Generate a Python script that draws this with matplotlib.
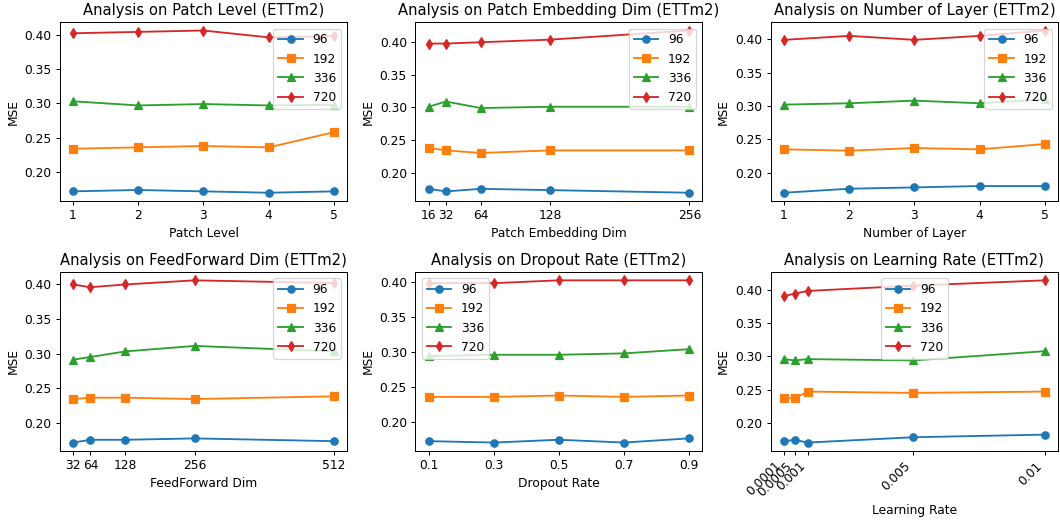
import matplotlib
matplotlib.use("Agg")
import matplotlib.pyplot as plt
from matplotlib.ticker import MultipleLocator

horizons = ["96", "192", "336", "720"]
markers = ["o", "s", "^", "d"]

patch_level_x = [1, 2, 3, 4, 5]
patch_level = [
    [0.172, 0.174, 0.172, 0.170, 0.172],
    [0.234, 0.236, 0.238, 0.236, 0.258],
    [0.303, 0.297, 0.299, 0.297, 0.298],
    [0.402, 0.404, 0.406, 0.396, 0.398],
]

embed_x = [16, 32, 64, 128, 256]
embed = [
    [0.175, 0.171, 0.175, 0.173, 0.169],
    [0.238, 0.234, 0.230, 0.234, 0.234],
    [0.301, 0.309, 0.299, 0.301, 0.301],
    [0.398, 0.398, 0.400, 0.404, 0.418],
]

layer_x = [1, 2, 3, 4, 5]
layer = [
    [0.170, 0.176, 0.178, 0.180, 0.180],
    [0.235, 0.233, 0.237, 0.235, 0.243],
    [0.302, 0.304, 0.308, 0.304, 0.310],
    [0.399, 0.405, 0.399, 0.405, 0.413],
]

ff_x = [32, 64, 128, 256, 512]
ff = [
    [0.171, 0.175, 0.175, 0.177, 0.173],
    [0.234, 0.236, 0.236, 0.234, 0.238],
    [0.291, 0.295, 0.303, 0.311, 0.303],
    [0.400, 0.396, 0.400, 0.406, 0.402],
]

dropout_x = [0.1, 0.3, 0.5, 0.7, 0.9]
dropout = [
    [0.173, 0.171, 0.175, 0.171, 0.177],
    [0.236, 0.236, 0.238, 0.236, 0.238],
    [0.294, 0.296, 0.296, 0.298, 0.304],
    [0.398, 0.398, 0.402, 0.402, 0.402],
]

lr_x = [0.0001, 0.0005, 0.001, 0.005, 0.01]
lr_labels = ["0.0001", "0.0005", "0.001", "0.005", "0.01"]
lr = [
    [0.172, 0.174, 0.170, 0.178, 0.182],
    [0.237, 0.237, 0.247, 0.245, 0.247],
    [0.296, 0.294, 0.296, 0.294, 0.308],
    [0.391, 0.395, 0.399, 0.407, 0.415],
]

panels = [
    ("Patch Level", patch_level_x, patch_level, [str(v) for v in patch_level_x], "upper right"),
    ("Patch Embedding Dim", embed_x, embed, [str(v) for v in embed_x], "upper right"),
    ("Number of Layer", layer_x, layer, [str(v) for v in layer_x], "upper right"),
    ("FeedForward Dim", ff_x, ff, [str(v) for v in ff_x], "upper right"),
    ("Dropout Rate", dropout_x, dropout, [str(v) for v in dropout_x], "upper left"),
    ("Learning Rate", lr_x, lr, lr_labels, "upper center"),
]

DPI = 1060 / 12.0
fig, axes = plt.subplots(2, 3, figsize=(12.0, 521 / DPI), dpi=DPI)
for i, (ax, (name, xs, ys, labels, loc)) in enumerate(zip(axes.flat, panels)):
    for h, m, y in zip(horizons, markers, ys):
        ax.plot(xs, y, marker=m, label=h)
    ax.set_title(f"Analysis on {name} (ETTm2)")
    ax.set_xlabel(name)
    ax.set_ylabel("MSE")
    ax.set_xticks(xs)
    if i == 5:
        ax.set_xticklabels(labels, rotation=45, ha="right")
    else:
        ax.set_xticklabels(labels)
    ax.yaxis.set_major_locator(MultipleLocator(0.05))
    ax.legend(loc=loc)

fig.subplots_adjust(left=0.0566, right=0.998, top=0.957, bottom=0.135,
                    wspace=0.239, hspace=0.40)
fig.savefig("out.png", dpi=DPI)
